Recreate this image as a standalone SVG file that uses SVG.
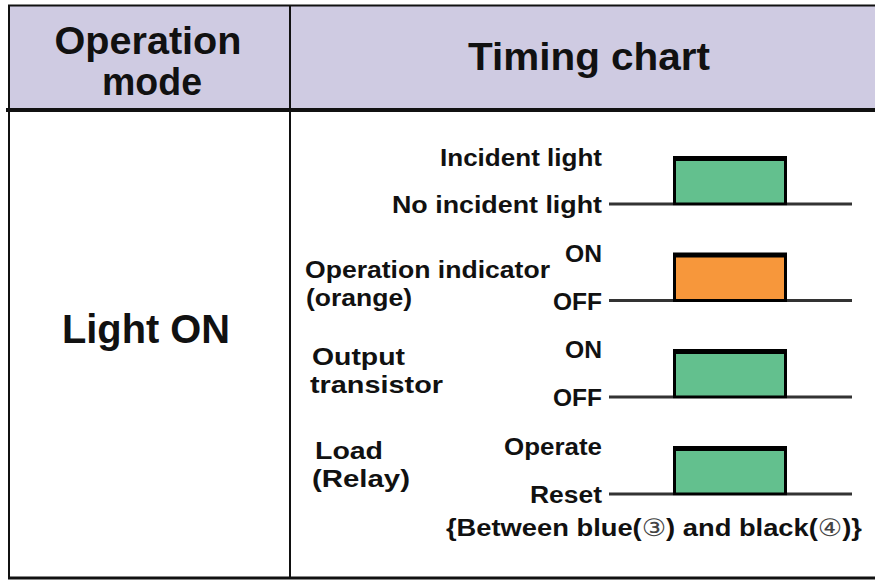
<svg xmlns="http://www.w3.org/2000/svg" width="875" height="581" viewBox="0 0 875 581">
<style>
text{font-family:"Liberation Sans",Arial,"DejaVu Sans",sans-serif;fill:#111}
.h{font-size:39px;font-weight:bold;text-anchor:middle}
.l{font-size:24px;font-weight:bold}
.r{text-anchor:end}
.c{font-weight:normal;font-family:"DejaVu Sans",sans-serif;fill:#444}
.base{stroke:#333;stroke-width:3;fill:none}
.pulse{stroke:#000;stroke-width:3}
.g{fill:#63c08e}
.o{fill:#f7973b}
.top{fill:#000}
.grid{stroke:#111;fill:none}
</style>
<rect x="9" y="5" width="866" height="104" fill="#cfcbe2"/>
<g id="table" class="grid">
<line x1="8" y1="5.5" x2="875" y2="5.5" stroke-width="2"/>
<line x1="9" y1="5" x2="9" y2="578" stroke-width="2"/>
<line x1="290" y1="5" x2="290" y2="578" stroke-width="2"/>
<line x1="6" y1="110" x2="875" y2="110" stroke-width="4"/>
<line x1="8" y1="578" x2="875" y2="578" stroke-width="3"/>
</g>
<g id="header-mode"><text class="h" x="148" y="54" textLength="187" lengthAdjust="spacingAndGlyphs">Operation</text><text class="h" x="152" y="95" textLength="100" lengthAdjust="spacingAndGlyphs">mode</text></g>
<g id="header-chart"><text class="h" x="589" y="70" textLength="242" lengthAdjust="spacingAndGlyphs">Timing chart</text></g>
<g id="mode-light-on"><text class="h" x="146" y="343" style="font-size:40px" textLength="168" lengthAdjust="spacingAndGlyphs">Light ON</text></g>

<g id="connectors">
<polyline class="base" points="609,204 673,204"/><polyline class="base" points="787,204 852,204"/>
<polyline class="base" points="609,300.5 673,300.5"/><polyline class="base" points="787,300.5 852,300.5"/>
<polyline class="base" points="609,397 673,397"/><polyline class="base" points="787,397 852,397"/>
<polyline class="base" points="609,494 673,494"/><polyline class="base" points="787,494 852,494"/>
</g>

<g id="row-incident">
<rect class="g pulse" x="674.5" y="158" width="111" height="46"/>
<rect class="top" x="673" y="156" width="114" height="5"/>
<text class="l r" x="602" y="166" textLength="162" lengthAdjust="spacingAndGlyphs">Incident light</text>
<text class="l r" x="602" y="213" textLength="210" lengthAdjust="spacingAndGlyphs">No incident light</text>
</g>
<g id="row-indicator">
<rect class="o pulse" x="674.5" y="254.5" width="111" height="46"/>
<rect class="top" x="673" y="252.5" width="114" height="5"/>
<text class="l" x="305" y="278" textLength="245" lengthAdjust="spacingAndGlyphs">Operation indicator</text>
<text class="l" x="306" y="306" textLength="106" lengthAdjust="spacingAndGlyphs">(orange)</text>
<text class="l r" x="602" y="262" textLength="37" lengthAdjust="spacingAndGlyphs">ON</text>
<text class="l r" x="602" y="310" textLength="49" lengthAdjust="spacingAndGlyphs">OFF</text>
</g>
<g id="row-transistor">
<rect class="g pulse" x="674.5" y="351" width="111" height="46"/>
<rect class="top" x="673" y="349" width="114" height="5"/>
<text class="l" x="312" y="365" textLength="93" lengthAdjust="spacingAndGlyphs">Output</text>
<text class="l" x="310" y="393" textLength="133" lengthAdjust="spacingAndGlyphs">transistor</text>
<text class="l r" x="602" y="358" textLength="37" lengthAdjust="spacingAndGlyphs">ON</text>
<text class="l r" x="602" y="406" textLength="49" lengthAdjust="spacingAndGlyphs">OFF</text>
</g>
<g id="row-load">
<rect class="g pulse" x="674.5" y="448" width="111" height="46"/>
<rect class="top" x="673" y="446" width="114" height="5"/>
<text class="l" x="315" y="459" textLength="68" lengthAdjust="spacingAndGlyphs">Load</text>
<text class="l" x="312" y="487" textLength="98" lengthAdjust="spacingAndGlyphs">(Relay)</text>
<text class="l r" x="602" y="455" textLength="98" lengthAdjust="spacingAndGlyphs">Operate</text>
<text class="l r" x="602" y="503" textLength="72" lengthAdjust="spacingAndGlyphs">Reset</text>
<text class="l" x="446" y="536" textLength="416" lengthAdjust="spacingAndGlyphs">{Between blue(<tspan class="c">③</tspan>) and black(<tspan class="c">④</tspan>)}</text>
</g>
</svg>
